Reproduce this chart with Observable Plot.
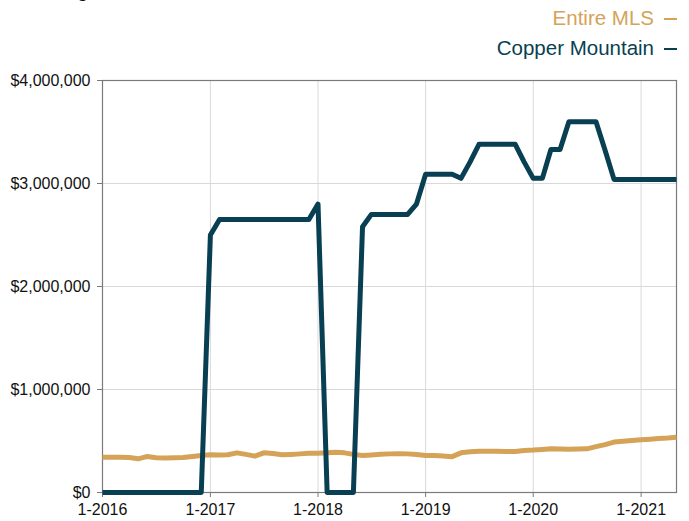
<!DOCTYPE html>
<html>
<head>
<meta charset="utf-8">
<script src="https://cdn.jsdelivr.net/npm/d3@7"></script>
<script src="https://cdn.jsdelivr.net/npm/@observablehq/plot@0.6"></script>
<style>
  html, body { margin: 0; padding: 0; background: #fff; overflow: hidden; }
  body { width: 689px; height: 521px; position: relative; font-family: "Liberation Sans", Arial, Helvetica, sans-serif; }
  #title { position: absolute; top: -21px; left: 25px; font-size: 20px; color: #111; white-space: nowrap; }
  #legend { height: 62px; box-sizing: border-box; padding-top: 3px; padding-right: 12px; text-align: right; font-size: 20.5px; }
  .item { height: 30px; line-height: 30px; }
  .sw { display: inline-block; width: 13px; height: 2px; margin-left: 10px; vertical-align: middle; position: relative; top: -1px; }
  #chart svg { display: block; }
</style>
</head>
<body>
<div id="title">Average Sales Price</div>
<div id="legend"></div>
<div id="chart"></div>
<script>
const seriesNames = ["Entire MLS", "Copper Mountain"];
const seriesColors = ["#d4a358", "#083f52"];
const startMonth = "2016-01";
const endMonth = "2021-05";
const entireMLS = [
  343000, 343000, 343000, 340000, 327000, 350000, 337000, 335000, 337000, 340000, 350000, 360000,
  366000, 365000, 367000, 385000, 370000, 353000, 385000, 378000, 366000, 370000, 375000, 380000,
  382000, 385000, 390000, 385000, 370000, 360000, 365000, 372000, 375000, 376000, 375000, 368000,
  360000, 360000, 355000, 348000, 385000, 395000, 400000, 400000, 400000, 398000, 398000, 408000,
  412000, 418000, 424000, 422000, 420000, 422000, 424000, 445000, 465000, 490000, 498000, 505000,
  512000, 518000, 525000, 530000, 537000
];
const copperMountain = [
  0, 0, 0, 0, 0, 0, 0, 0, 0, 0, 0, 0,
  2500000, 2650000, 2650000, 2650000, 2650000, 2650000, 2650000, 2650000, 2650000, 2650000, 2650000, 2650000,
  2800000, 0, 0, 0, 0, 2580000, 2700000, 2700000, 2700000, 2700000, 2700000, 2800000,
  3090000, 3090000, 3090000, 3090000, 3050000, 3210000, 3380000, 3380000, 3380000, 3380000, 3380000, 3210000,
  3050000, 3050000, 3330000, 3330000, 3600000, 3600000, 3600000, 3600000, 3320000, 3040000, 3040000, 3040000,
  3040000, 3040000, 3040000, 3040000, 3040000
];
const yTicks = [0, 1000000, 2000000, 3000000, 4000000];
const xTickYears = [2016, 2017, 2018, 2019, 2020, 2021];

const months = d3.utcMonth.range(new Date(startMonth + "-01T00:00Z"), d3.utcMonth.offset(new Date(endMonth + "-01T00:00Z"), 1));
const rows = [];
[entireMLS, copperMountain].forEach((vals, s) => {
  vals.forEach((v, i) => rows.push({date: months[i], value: v, series: seriesNames[s]}));
});
const xTicks = xTickYears.map(y => new Date(Date.UTC(y, 0, 1)));

// legend
const legend = document.getElementById("legend");
seriesNames.forEach((n, i) => {
  const d = document.createElement("div");
  d.className = "item";
  d.style.color = seriesColors[i];
  d.innerHTML = `<span>${n}</span><span class="sw" style="background:${seriesColors[i]}"></span>`;
  legend.appendChild(d);
});

const fmtMoney = d => "$" + d3.format(",")(d);
const fmtDate = d => `${d.getUTCMonth() + 1}-${d.getUTCFullYear()}`;

const plot = Plot.plot({
  width: 689,
  height: 459,
  marginLeft: 102,
  marginRight: 13,
  marginTop: 18,
  marginBottom: 29,
  style: {fontFamily: '"Liberation Sans", Arial, Helvetica, sans-serif', fontSize: "16px", color: "#111", background: "#fff"},
  x: {type: "utc", domain: [months[0], months[months.length - 1]], ticks: xTicks, tickFormat: fmtDate, label: null},
  y: {domain: [0, 4000000], ticks: yTicks, tickFormat: fmtMoney, label: null},
  color: {domain: seriesNames, range: seriesColors},
  marks: [
    Plot.gridX(xTicks, {stroke: "#d9d9d9", strokeOpacity: 1, strokeWidth: 1}),
    Plot.gridY(yTicks, {stroke: "#d9d9d9", strokeOpacity: 1, strokeWidth: 1}),
    Plot.frame({stroke: "#7a7a7a", strokeWidth: 1.2}),
    Plot.axisX({ticks: xTicks, tickFormat: fmtDate, stroke: "#7a7a7a", tickSize: 5, tickPadding: 6, fontSize: 16, fill: "#111"}),
    Plot.axisY({ticks: yTicks, tickFormat: fmtMoney, stroke: "#7a7a7a", tickSize: 5, tickPadding: 7, fontSize: 16, fill: "#111"}),
    Plot.line(rows, {x: "date", y: "value", z: "series", stroke: "series", strokeWidth: 5, strokeLinejoin: "round", strokeLinecap: "butt"})
  ]
});
document.getElementById("chart").appendChild(plot);
</script>
</body>
</html>
